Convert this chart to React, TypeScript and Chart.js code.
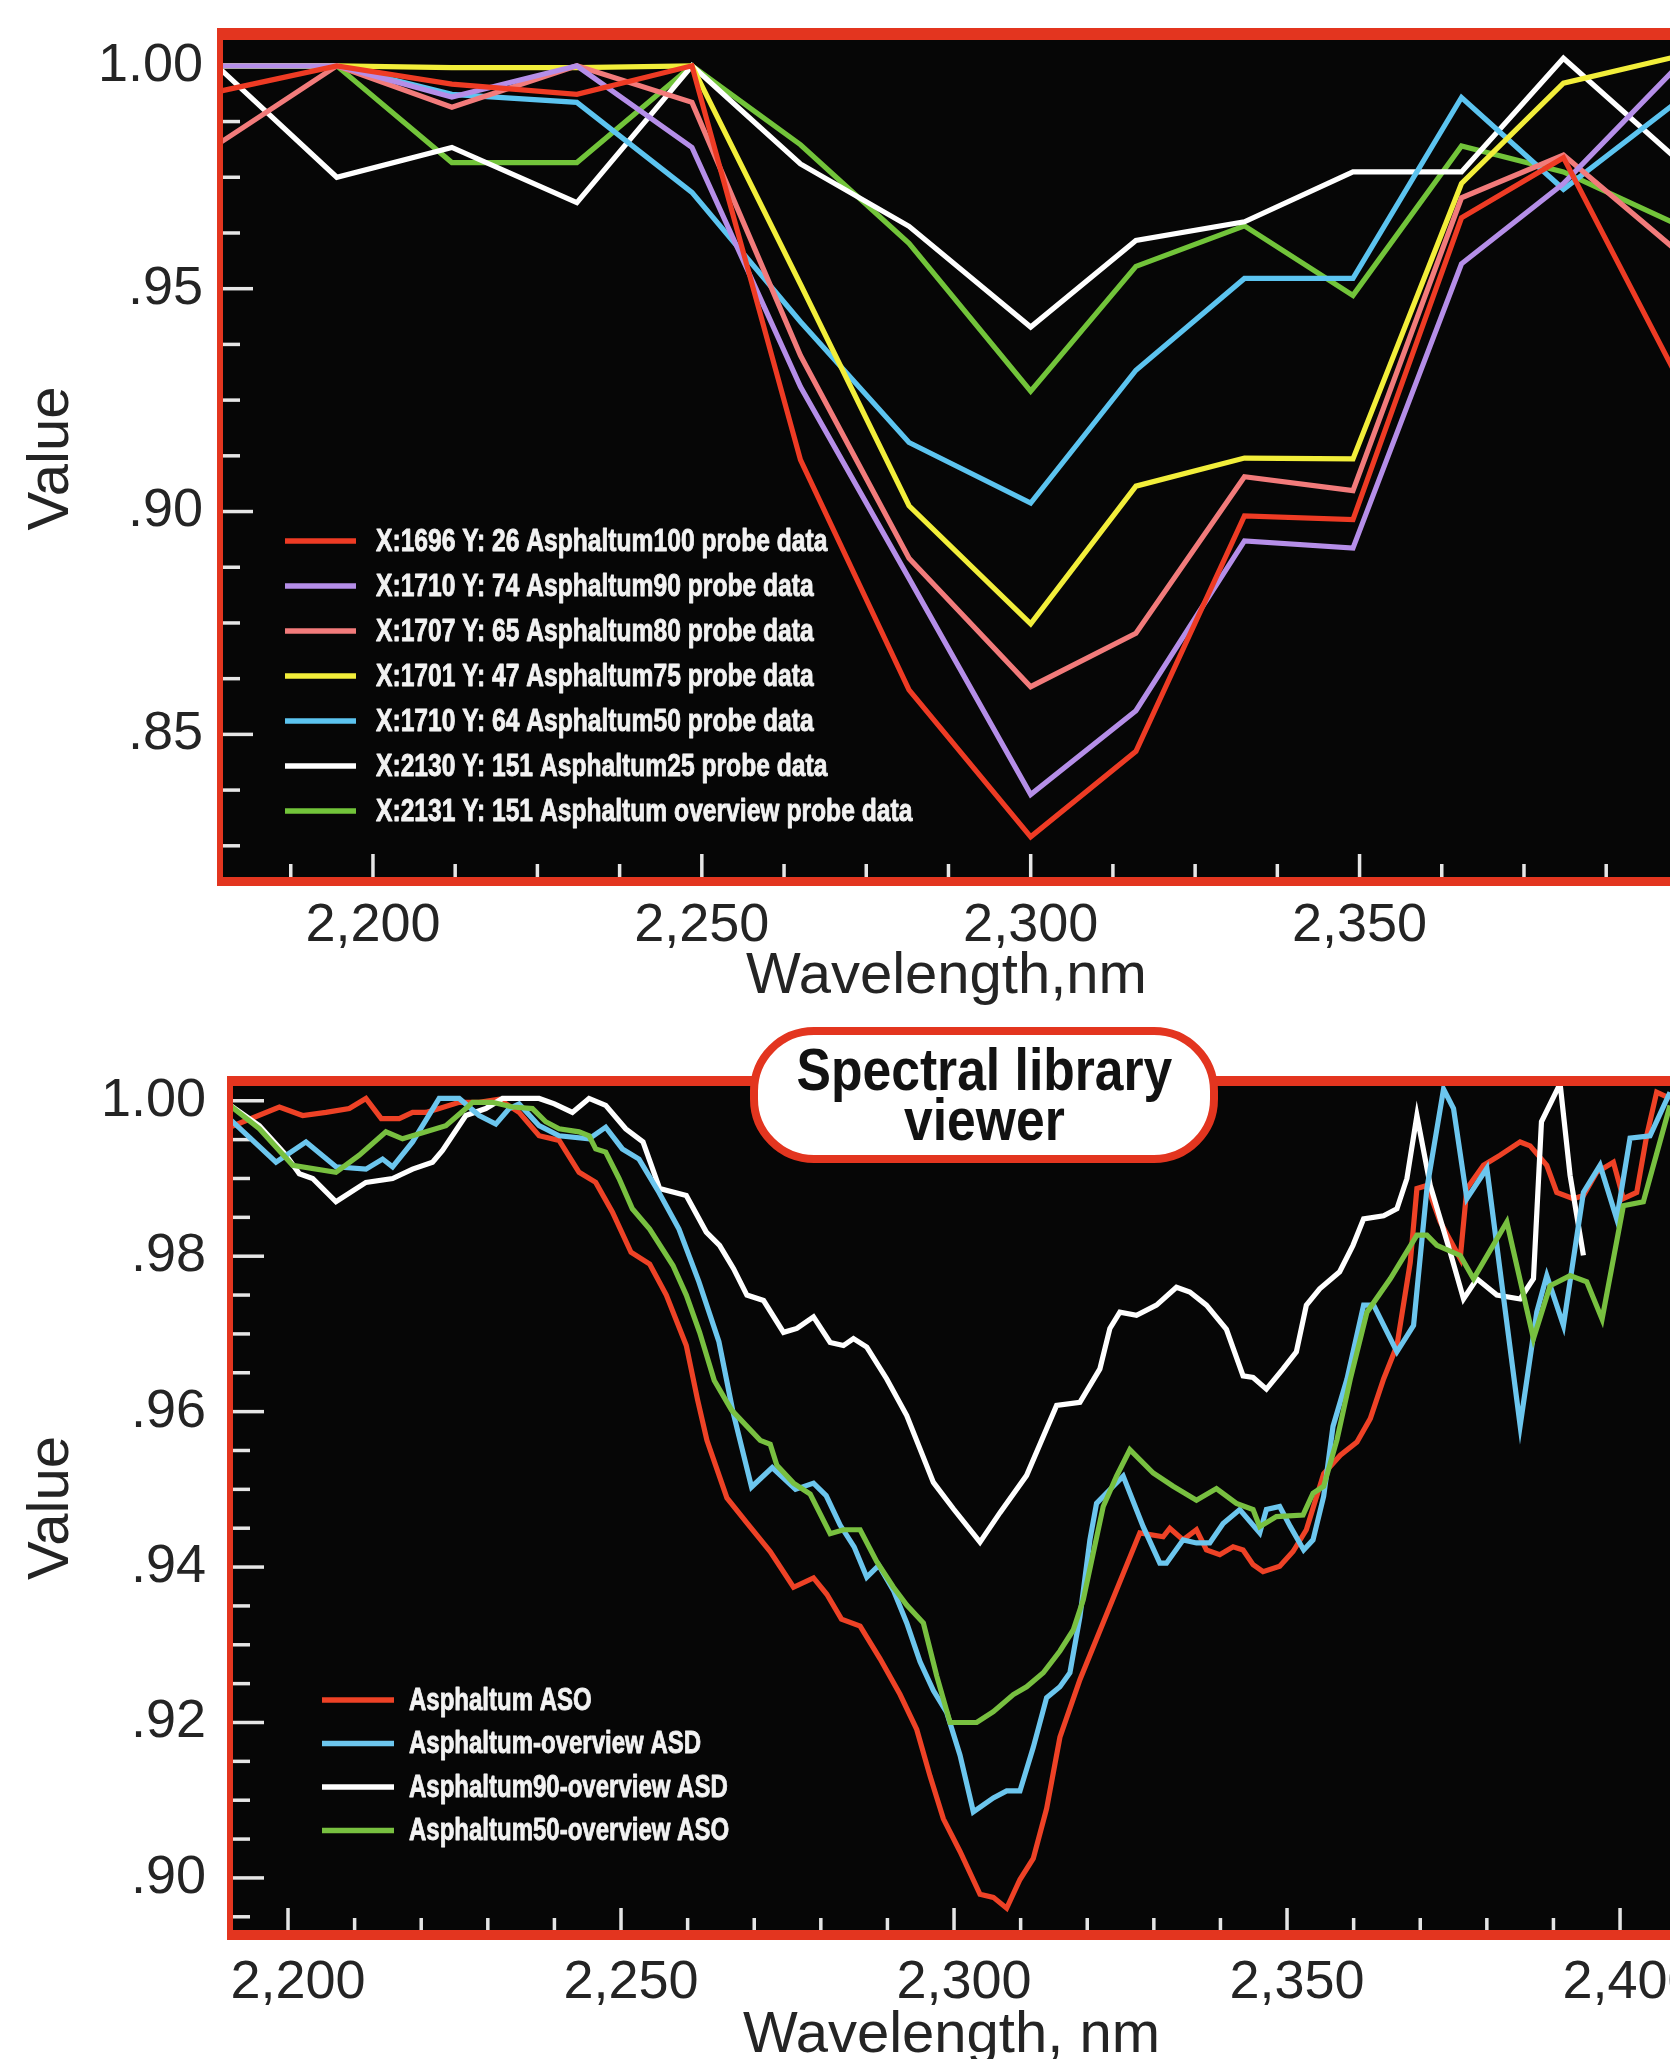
import React, { useEffect, useRef } from 'react';
import { Chart, registerables } from 'chart.js';

Chart.register(...registerables);

const FONT = '"Liberation Sans", Arial, Helvetica, sans-serif';
const TEXT_COLOR = '#242424';
const FRAME_RED = '#e3351f';
const PANEL_BLACK = '#060606';

// ---------------- Upper panel: probe data ----------------
const probeWavelengths = [2177, 2194.5, 2212, 2231, 2248.5, 2265, 2281.5, 2300, 2316, 2332.5, 2349, 2365.5, 2381, 2398];
const probeAsphaltum100 = [0.9944, 1.0, 0.9959, 0.9936, 1.0, 0.9116, 0.86, 0.827, 0.8462, 0.899, 0.8982, 0.9659, 0.9794, 0.931];
const probeAsphaltum90 = [1.0, 1.0, 0.993, 1.0, 0.9817, 0.928, 0.885, 0.8365, 0.8553, 0.8934, 0.8918, 0.9556, 0.9736, 0.9994];
const probeAsphaltum80 = [0.983, 1.0, 0.9907, 1.0, 0.9918, 0.935, 0.8895, 0.8607, 0.8727, 0.9078, 0.9047, 0.9704, 0.98, 0.9588];
const probeAsphaltum75 = [1.0, 1.0, 0.9996, 0.9996, 1.0, 0.951, 0.9013, 0.8748, 0.9057, 0.912, 0.9118, 0.9736, 0.9961, 1.002];
const probeAsphaltum50 = [1.0, 1.0, 0.9936, 0.9918, 0.9716, 0.9426, 0.9155, 0.9019, 0.9317, 0.9523, 0.9523, 0.9929, 0.9723, 0.9916];
const probeAsphaltum25 = [0.999, 0.975, 0.9817, 0.9693, 1.0, 0.978, 0.964, 0.9414, 0.9608, 0.965, 0.9762, 0.9762, 1.0017, 0.9794];
const probeOverview = [1.0, 1.0, 0.9783, 0.9783, 1.0, 0.9823, 0.9602, 0.927, 0.955, 0.9641, 0.9485, 0.982, 0.9762, 0.9646];

const probeLabels = [
  'X:1696 Y: 26 Asphaltum100 probe data',
  'X:1710 Y: 74 Asphaltum90 probe data',
  'X:1707 Y: 65 Asphaltum80 probe data',
  'X:1701 Y: 47 Asphaltum75 probe data',
  'X:1710 Y: 64 Asphaltum50 probe data',
  'X:2130 Y: 151 Asphaltum25 probe data',
  'X:2131 Y: 151 Asphaltum overview probe data',
];
const probeSeries = [probeAsphaltum100, probeAsphaltum90, probeAsphaltum80, probeAsphaltum75, probeAsphaltum50, probeAsphaltum25, probeOverview];
const probeColors = ['#ee3b24', '#b58ee8', '#f27b7b', '#f2ee3a', '#5cc4f0', '#ffffff', '#72c43a'];

const probeYTicks = [1.0, 0.95, 0.9, 0.85];
const probeYTickLabels = ['1.00', '.95', '.90', '.85'];
const probeXTicks = [2200, 2250, 2300, 2350];
const probeXTickLabels = ['2,200', '2,250', '2,300', '2,350'];

// ---------------- Lower panel: spectral library ----------------
const asdAsphaltum: [number, number][] = [
  [2190.7, 0.9964], [2198.7, 0.9992], [2202.2, 0.9981], [2205.7, 0.9985], [2209.2, 0.999], [2211.7, 1.0003],
  [2214.0, 0.9977], [2216.7, 0.9977], [2218.7, 0.9985], [2220.7, 0.9985], [2222.7, 0.999], [2225.7, 0.9998],
  [2228.7, 0.9998], [2231.7, 1.0002], [2234.7, 0.9985], [2237.7, 0.9955], [2240.7, 0.9949], [2243.7, 0.9908],
  [2246.2, 0.9895], [2248.7, 0.9857], [2251.5, 0.9805], [2254.3, 0.979], [2256.8, 0.975], [2259.8, 0.9685],
  [2261.5, 0.9615], [2262.9, 0.9563], [2265.9, 0.9489], [2268.9, 0.9457], [2272.4, 0.942], [2275.9, 0.9374],
  [2278.9, 0.9386], [2280.9, 0.9365], [2283.1, 0.9333], [2285.9, 0.9324], [2288.9, 0.9282], [2291.9, 0.9236],
  [2294.4, 0.9191], [2296.4, 0.9131], [2298.4, 0.9076], [2300.9, 0.9034], [2303.9, 0.8979], [2305.9, 0.8975],
  [2307.9, 0.8961], [2309.9, 0.8998], [2311.9, 0.9025], [2313.9, 0.9089], [2315.9, 0.9181], [2318.9, 0.9255],
  [2327.9, 0.9444], [2331.4, 0.9439], [2332.4, 0.945], [2334.4, 0.9435], [2336.4, 0.9448], [2337.9, 0.9422],
  [2339.9, 0.9416], [2341.9, 0.9426], [2343.4, 0.9422], [2344.9, 0.9403], [2346.4, 0.9394], [2348.9, 0.9401],
  [2350.9, 0.942], [2352.9, 0.9448], [2355.5, 0.952], [2358.0, 0.9544], [2360.5, 0.9561], [2362.5, 0.9591],
  [2364.5, 0.9642], [2366.5, 0.9685], [2368.5, 0.9792], [2369.5, 0.9887], [2371.0, 0.9891], [2373.0, 0.9844],
  [2376.0, 0.9797], [2377.0, 0.9887], [2379.5, 0.9917], [2382.0, 0.993], [2385.0, 0.9947], [2386.5, 0.9942],
  [2389.0, 0.9917], [2390.5, 0.9882], [2393.0, 0.9874], [2394.5, 0.9878], [2396.5, 0.9908], [2399.0, 0.9921],
  [2400.5, 0.9874], [2402.5, 0.9882], [2404.0, 0.9955], [2405.5, 1.0011], [2407.5, 1.0003],
];
const asdAsphaltumOverview: [number, number][] = [
  [2190.7, 0.9981], [2198.2, 0.9921], [2202.7, 0.9947], [2207.2, 0.9915], [2211.7, 0.9912], [2214.2, 0.9925],
  [2215.7, 0.9915], [2218.7, 0.9947], [2222.7, 1.0003], [2225.7, 1.0003], [2228.7, 0.9981], [2231.2, 0.997],
  [2233.2, 0.999], [2234.7, 0.9996], [2237.7, 0.9968], [2240.7, 0.9955], [2245.2, 0.9951], [2247.7, 0.9966],
  [2250.2, 0.9938], [2252.7, 0.9925], [2255.7, 0.9882], [2258.7, 0.9835], [2261.7, 0.9767], [2264.7, 0.969],
  [2266.8, 0.96], [2269.6, 0.9503], [2272.7, 0.9528], [2276.2, 0.95], [2278.9, 0.9508], [2280.8, 0.9492],
  [2282.9, 0.9454], [2285.0, 0.9426], [2286.9, 0.9387], [2288.7, 0.9402], [2290.9, 0.937], [2292.9, 0.9328],
  [2294.9, 0.9278], [2296.9, 0.9241], [2298.9, 0.9213], [2300.9, 0.9158], [2302.9, 0.9085], [2305.9, 0.9103],
  [2307.9, 0.9112], [2309.9, 0.9112], [2311.9, 0.9168], [2313.9, 0.9232], [2315.9, 0.9246], [2317.4, 0.9264],
  [2318.9, 0.9336], [2320.4, 0.9435], [2321.4, 0.9482], [2323.9, 0.9504], [2325.4, 0.9517], [2328.4, 0.9452],
  [2330.9, 0.9405], [2331.9, 0.9405], [2334.4, 0.9435], [2336.4, 0.9431], [2338.4, 0.9431], [2340.4, 0.9456],
  [2342.9, 0.9474], [2345.9, 0.9444], [2346.9, 0.9474], [2348.9, 0.9478], [2350.5, 0.9452], [2352.5, 0.9422],
  [2353.9, 0.9435], [2355.5, 0.9491], [2356.9, 0.9581], [2359.0, 0.9642], [2361.5, 0.9737], [2363.0, 0.9737],
  [2366.5, 0.9677], [2369.0, 0.9711], [2371.0, 0.9887], [2373.5, 1.0015], [2375.0, 0.999], [2377.0, 0.9874],
  [2380.0, 0.9913], [2385.0, 0.9582], [2387.5, 0.9728], [2389.0, 0.9775], [2391.5, 0.9711], [2394.5, 0.9882],
  [2397.0, 0.9917], [2399.5, 0.9848], [2401.5, 0.9952], [2404.5, 0.9955], [2407.5, 1.0011],
];
const asdAsphaltum90Overview: [number, number][] = [
  [2190.7, 0.9998], [2195.7, 0.9968], [2199.7, 0.993], [2201.7, 0.9906], [2203.7, 0.99], [2207.2, 0.987],
  [2211.7, 0.9895], [2215.7, 0.99], [2218.7, 0.9912], [2221.7, 0.9921], [2223.2, 0.9936], [2226.7, 0.9981],
  [2229.7, 0.999], [2232.2, 1.0003], [2237.7, 1.0003], [2240.0, 0.9996], [2242.7, 0.9985], [2245.2, 1.0003],
  [2247.7, 0.9994], [2250.7, 0.9964], [2253.3, 0.9947], [2255.8, 0.9887], [2259.8, 0.9878], [2262.8, 0.9831],
  [2264.8, 0.9814], [2266.9, 0.9784], [2268.9, 0.975], [2271.4, 0.9743], [2274.4, 0.9702], [2276.4, 0.9707],
  [2278.9, 0.9722], [2281.4, 0.9689], [2283.4, 0.9685], [2284.9, 0.9694], [2286.9, 0.9683], [2289.9, 0.9642],
  [2292.9, 0.9595], [2296.9, 0.9509], [2299.9, 0.9475], [2303.9, 0.9432], [2306.9, 0.947], [2310.9, 0.9518],
  [2315.4, 0.9608], [2318.9, 0.9612], [2321.9, 0.9655], [2323.4, 0.9707], [2324.9, 0.9728], [2327.4, 0.9724],
  [2330.4, 0.9737], [2333.4, 0.976], [2335.4, 0.9754], [2337.9, 0.9737], [2340.9, 0.9706], [2343.4, 0.9646],
  [2344.9, 0.9644], [2346.9, 0.9629], [2349.4, 0.9655], [2351.4, 0.9677], [2352.9, 0.9737], [2354.9, 0.9758],
  [2357.9, 0.978], [2359.9, 0.9814], [2361.5, 0.9848], [2364.5, 0.9852], [2366.5, 0.9861], [2368.0, 0.99],
  [2369.5, 0.9981], [2371.5, 0.9891], [2374.5, 0.9805], [2376.5, 0.9745], [2378.5, 0.9771], [2381.5, 0.975],
  [2385.0, 0.9745], [2387.0, 0.9771], [2388.2, 0.9973], [2391.0, 1.0022], [2392.5, 0.9904], [2394.5, 0.9801],
];
const asdAsphaltum50Overview: [number, number][] = [
  [2190.7, 0.9998], [2195.7, 0.9964], [2200.7, 0.9917], [2207.2, 0.9908], [2210.7, 0.993], [2214.7, 0.996],
  [2217.2, 0.9951], [2220.7, 0.996], [2223.7, 0.9968], [2226.7, 0.999], [2227.7, 0.9998], [2230.7, 0.9998],
  [2233.7, 0.9992], [2236.7, 0.999], [2238.7, 0.9973], [2240.7, 0.9964], [2243.7, 0.996], [2245.2, 0.9955],
  [2246.2, 0.9938], [2247.7, 0.9934], [2249.7, 0.99], [2251.7, 0.9861], [2254.3, 0.9835], [2257.8, 0.9788],
  [2259.8, 0.975], [2261.8, 0.9702], [2264.0, 0.964], [2266.6, 0.9602], [2270.9, 0.9563], [2272.4, 0.9558],
  [2273.4, 0.9531], [2275.9, 0.9508], [2278.4, 0.9494], [2281.4, 0.9443], [2283.4, 0.9448], [2285.9, 0.9448],
  [2288.4, 0.9407], [2290.9, 0.9374], [2292.9, 0.9351], [2295.4, 0.9328], [2297.4, 0.926], [2299.4, 0.92],
  [2303.4, 0.92], [2305.9, 0.9214], [2308.9, 0.9236], [2310.9, 0.9246], [2313.4, 0.9264], [2315.9, 0.9292],
  [2317.9, 0.9319], [2319.4, 0.9358], [2322.4, 0.9478], [2324.4, 0.9517], [2326.4, 0.9551], [2329.9, 0.9521],
  [2332.9, 0.9504], [2336.4, 0.9486], [2339.4, 0.9501], [2342.4, 0.9482], [2344.9, 0.9474], [2345.9, 0.9452],
  [2348.4, 0.9465], [2352.4, 0.9467], [2353.9, 0.9495], [2355.5, 0.9504], [2357.5, 0.9564], [2359.5, 0.9642],
  [2362.0, 0.9728], [2365.5, 0.9771], [2369.5, 0.9827], [2371.0, 0.9827], [2372.5, 0.9814], [2376.0, 0.9801],
  [2378.0, 0.9771], [2383.0, 0.9844], [2387.0, 0.9694], [2389.5, 0.9762], [2392.5, 0.9775], [2395.0, 0.9767],
  [2397.3, 0.9719], [2400.5, 0.9865], [2403.5, 0.987], [2407.5, 0.9994],
];

const asdLabels = ['Asphaltum ASO', 'Asphaltum-overview ASD', 'Asphaltum90-overview ASD', 'Asphaltum50-overview ASO'];
const asdSeries = [asdAsphaltum, asdAsphaltumOverview, asdAsphaltum90Overview, asdAsphaltum50Overview];
const asdColors = ['#ee4226', '#6cc6ee', '#ffffff', '#78c040'];
const asdDrawOrder = [3, 1, 2, 0];

const asdYTicks = [1.0, 0.98, 0.96, 0.94, 0.92, 0.9];
const asdYTickLabels = ['1.00', '.98', '.96', '.94', '.92', '.90'];
const asdXTicks = [2200, 2250, 2300, 2350, 2400];
const asdXTickLabels = ['2,200', '2,250', '2,300', '2,350', '2,400'];

// ---------------- plugin: frame, inner ticks, legend ----------------
const panelPlugin: any = {
  id: 'panel',
  beforeDraw(chart: any, _a: any, o: any) {
    const { ctx, chartArea: a } = chart;
    ctx.save();
    ctx.fillStyle = FRAME_RED;
    ctx.fillRect(a.left - o.frameLeft, a.top - o.frameTop, a.right - a.left + o.frameLeft + 10, a.bottom - a.top + o.frameTop + o.frameBottom);
    ctx.fillStyle = PANEL_BLACK;
    ctx.fillRect(a.left, a.top, a.right - a.left, a.bottom - a.top);
    ctx.restore();
  },
  beforeDatasetsDraw(chart: any, _a: any, o: any) {
    const { ctx, chartArea: a, scales } = chart;
    const xs = scales.x;
    const ys = scales.y;
    ctx.save();
    ctx.strokeStyle = '#e6e6e6';
    ctx.lineWidth = 3.5;
    const isMajor = (v: number, m: number) => Math.abs(v / m - Math.round(v / m)) < 1e-6;
    for (let k = Math.ceil(ys.min / o.yStep); k * o.yStep <= ys.max + 1e-9; k++) {
      const v = k * o.yStep;
      const py = ys.getPixelForValue(v);
      if (py < a.top + 2 || py > a.bottom - 2) continue;
      const len = isMajor(v, o.yMajor) ? o.yMajorLen : o.yMinorLen;
      ctx.beginPath();
      ctx.moveTo(a.left, py);
      ctx.lineTo(a.left + len, py);
      ctx.stroke();
    }
    for (let k = Math.ceil(xs.min / o.xStep); k * o.xStep <= xs.max + 1e-9; k++) {
      const v = k * o.xStep;
      const px = xs.getPixelForValue(v);
      if (px < a.left + 2 || px > a.right - 1) continue;
      const len = isMajor(v, o.xMajor) ? o.xMajorLen : o.xMinorLen;
      ctx.beginPath();
      ctx.moveTo(px, a.bottom);
      ctx.lineTo(px, a.bottom - len);
      ctx.stroke();
    }
    ctx.restore();
  },
  afterDatasetsDraw(chart: any, _a: any, o: any) {
    const { ctx } = chart;
    ctx.save();
    ctx.font = `bold ${o.legendFontSize}px ${FONT}`;
    ctx.textBaseline = 'middle';
    ctx.textAlign = 'left';
    chart.data.datasets.forEach((ds: any, i: number) => {
      const y = o.legendY0 + i * o.legendDy;
      ctx.strokeStyle = ds.borderColor;
      ctx.lineWidth = 5.5;
      ctx.beginPath();
      ctx.moveTo(o.legendX0, y);
      ctx.lineTo(o.legendX1, y);
      ctx.stroke();
      ctx.save();
      ctx.translate(o.legendTextX, y + 1);
      ctx.scale(o.legendScaleX, 1);
      ctx.fillStyle = '#f2f2f2';
      ctx.strokeStyle = '#f2f2f2';
      ctx.lineWidth = 0.9;
      ctx.lineJoin = 'round';
      ctx.fillText(ds.label, 0, 0);
      ctx.strokeText(ds.label, 0, 0);
      ctx.restore();
    });
    ctx.restore();
  },
};

const tickFont = { family: FONT, size: 54 };
const titleFont = { family: FONT, size: 58, lineHeight: 1 };

function buildOptions(p: any) {
  return {
    responsive: false,
    animation: false,
    devicePixelRatio: 1,
    layout: { padding: { left: 0, right: 0, top: p.padTop, bottom: 0 } },
    plugins: { legend: { display: false }, tooltip: { enabled: false }, panel: p.panel },
    scales: {
      x: {
        type: 'linear',
        min: p.xMin,
        max: p.xMax,
        grid: { display: false, drawTicks: false },
        border: { display: false },
        afterBuildTicks: (s: any) => { s.ticks = p.xTicks.map((v: number) => ({ value: v })); },
        afterFit: (s: any) => { s.height = p.xHeight; s.paddingLeft = 0; s.paddingRight = 0; },
        ticks: {
          autoSkip: false, maxRotation: 0, minRotation: 0, padding: p.xTickPad, labelOffset: p.xLabelOffset,
          font: tickFont, color: TEXT_COLOR,
          callback: (v: any) => p.xTickLabels[p.xTicks.indexOf(Number(v))] ?? '',
        },
        title: { display: true, text: p.xTitle, font: titleFont, color: TEXT_COLOR, padding: { top: 0, bottom: p.xTitlePad } },
      },
      y: {
        type: 'linear',
        min: p.yMin,
        max: p.yMax,
        grid: { display: false, drawTicks: false },
        border: { display: false },
        afterBuildTicks: (s: any) => { s.ticks = p.yTicks.map((v: number) => ({ value: v })); },
        afterFit: (s: any) => { s.width = p.yWidth; s.paddingTop = 0; s.paddingBottom = 0; },
        ticks: {
          autoSkip: false, padding: p.yTickPad, font: tickFont, color: TEXT_COLOR,
          callback: (v: any) => p.yTickLabels[p.yTicks.indexOf(Number(v))] ?? '',
        },
        title: { display: true, text: 'Value', font: titleFont, color: TEXT_COLOR, padding: { top: 23, bottom: 0 } },
      },
    },
  };
}

export default function App() {
  const topRef = useRef<HTMLCanvasElement>(null);
  const bottomRef = useRef<HTMLCanvasElement>(null);

  useEffect(() => {
    const charts: Chart[] = [];
    if (topRef.current) {
      charts.push(new Chart(topRef.current, {
        type: 'line',
        data: {
          datasets: probeSeries.map((vals, i) => ({
            label: probeLabels[i],
            data: probeWavelengths.map((x, j) => ({ x, y: vals[j] })),
            borderColor: probeColors[i],
            borderWidth: 5.2,
            pointRadius: 0,
            tension: 0,
            fill: false,
            clip: 0,
          })),
        },
        options: buildOptions({
          padTop: 40, xMin: 2177.2, xMax: 2397.2, yMin: 0.818, yMax: 1.0058,
          xTicks: probeXTicks, xTickLabels: probeXTickLabels, yTicks: probeYTicks, yTickLabels: probeYTickLabels,
          xHeight: 133, yWidth: 223, xTickPad: 17, xLabelOffset: 0, yTickPad: 20,
          xTitle: 'Wavelength,nm', xTitlePad: 4,
          panel: {
            frameLeft: 6, frameTop: 12, frameBottom: 9,
            yStep: 0.0125, yMajor: 0.05, yMinorLen: 17, yMajorLen: 30,
            xStep: 12.5, xMajor: 50, xMinorLen: 13, xMajorLen: 23,
            legendX0: 285, legendX1: 356, legendTextX: 376, legendY0: 541, legendDy: 45,
            legendFontSize: 32, legendScaleX: 0.77,
          },
        }) as any,
        plugins: [panelPlugin],
      }));
    }
    if (bottomRef.current) {
      charts.push(new Chart(bottomRef.current, {
        type: 'line',
        data: {
          datasets: asdSeries.map((pts, i) => ({
            label: asdLabels[i],
            data: pts.map(([x, y]) => ({ x, y })),
            borderColor: asdColors[i],
            borderWidth: 5.2,
            pointRadius: 0,
            tension: 0,
            fill: false,
            clip: 0,
            order: asdDrawOrder[i],
          })),
        },
        options: buildOptions({
          padTop: 76, xMin: 2191.74, xMax: 2407.5, yMin: 0.8933, yMax: 1.0019,
          xTicks: asdXTicks, xTickLabels: asdXTickLabels, yTicks: asdYTicks, yTickLabels: asdYTickLabels,
          xHeight: 150, yWidth: 233, xTickPad: 21, xLabelOffset: 10, yTickPad: 27,
          xTitle: 'Wavelength, nm', xTitlePad: 15,
          panel: {
            frameLeft: 6, frameTop: 10, frameBottom: 10,
            yStep: 0.005, yMajor: 0.02, yMinorLen: 17, yMajorLen: 31,
            xStep: 10, xMajor: 50, xMinorLen: 12, xMajorLen: 22,
            legendX0: 322, legendX1: 394, legendTextX: 409, legendY0: 690, legendDy: 43.5,
            legendFontSize: 32, legendScaleX: 0.75,
          },
        }) as any,
        plugins: [panelPlugin],
      }));
    }
    return () => charts.forEach((c) => c.destroy());
  }, []);

  return (
    <div style={{ position: 'absolute', left: 0, top: 0, width: 1670, height: 2059, overflow: 'hidden', background: '#ffffff' }}>
      <canvas ref={topRef} width={1670} height={1010} style={{ position: 'absolute', left: 0, top: 0 }} />
      <canvas ref={bottomRef} width={1670} height={1070} style={{ position: 'absolute', left: 0, top: 1010 }} />
      <div
        style={{
          position: 'absolute', left: 750, top: 1027, width: 468, height: 136, boxSizing: 'border-box',
          border: `8px solid ${FRAME_RED}`, borderRadius: 64, background: '#ffffff', zIndex: 2,
          display: 'flex', flexDirection: 'column', justifyContent: 'center', alignItems: 'center',
          fontFamily: FONT, fontWeight: 700, fontSize: 60, lineHeight: '50px', color: '#121212',
        }}
      >
        <div style={{ transform: 'scaleX(0.86)', whiteSpace: 'nowrap' }}>Spectral library</div>
        <div style={{ transform: 'scaleX(0.86)', whiteSpace: 'nowrap' }}>viewer</div>
      </div>
    </div>
  );
}
